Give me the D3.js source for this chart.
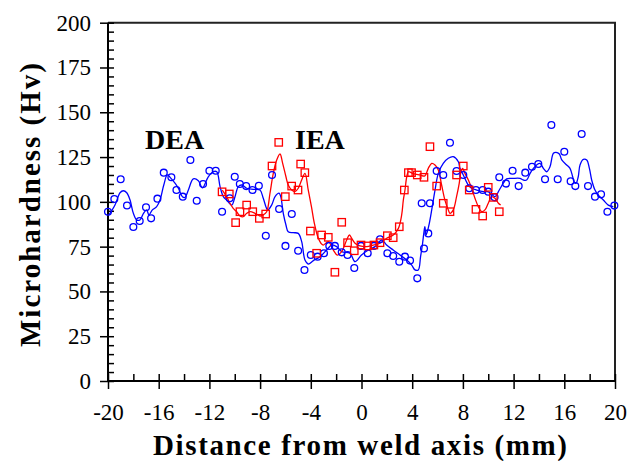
<!DOCTYPE html>
<html>
<head>
<meta charset="utf-8">
<script src="https://cdn.jsdelivr.net/npm/d3@7"></script>
<style>
  body { margin: 0; background: #fff; }
  svg { display: block; }
  svg text { font-family: 'Liberation Serif', 'Times New Roman', serif; }
</style>
</head>
<body>
<div id="chart"></div>
<script>
// DATA
// DEA measurements (circles)
let deaPoints = [[-20,94.5],[-19.5,101.6],[-19,112.6],[-18.5,98],[-18,86],[-17.5,89.3],[-17,97],[-16.6,90.8],[-16.1,101.8],[-15.6,116.3],[-15,113.7],[-14.6,106.6],[-14.1,102.9],[-13.5,123.4],[-13,100.6],[-12.5,110],[-12,117.4],[-11.5,117.4],[-11,94.5],[-10.4,102],[-10,114],[-9.6,110],[-9.1,108.8],[-8.6,106.6],[-8.1,109],[-7.55,81.1],[-7.06,115],[-6.5,96],[-6,75.4],[-5.5,93.2],[-5,72.7],[-4.5,62],[-4,70.3],[-3.46,69.4],[-2.96,71.3],[-2.54,75.4],[-2.1,75.4],[-1.56,71.8],[-1.1,70.3],[-0.57,63.1],[-0.04,75.4],[0.49,71.3],[0.98,75.4],[1.46,79.1],[2.04,71.3],[2.5,69.8],[2.98,66.6],[3.43,69.4],[3.83,67.2],[4.4,57.3],[4.75,99.2],[4.93,74],[5.27,82.4],[5.4,99.2],[5.93,117.2],[6.45,115],[6.98,133],[7.5,117.2],[8.03,115],[8.5,107.6],[9.03,106.6],[9.56,106.6],[10,105.7],[10.5,102.5],[10.87,113.7],[11.4,110.2],[11.92,117.4],[12.4,108.8],[12.92,116.3],[13.45,119.6],[13.95,121.1],[14.48,112.6],[14.98,142.9],[15.48,112.6],[16,128],[16.5,111.5],[16.87,108.8],[17.37,137.9],[17.87,108.8],[18.42,102.9],[18.9,104.2],[19.4,94.5],[19.95,97.9]]

// DEA smoothed profile (blue line)
let deaCurve = [[-19.92,92.7],[-19.45,98.2],[-19.05,105.1],[-18.79,106.2],[-18.52,105.1],[-18.26,101],[-18,93.6],[-17.74,89.9],[-17.48,89.9],[-17.2,93.6],[-16.95,95.5],[-16.77,92.7],[-16.5,95.5],[-16.16,97.3],[-15.9,101],[-15.6,109.4],[-15.32,115],[-15.03,113.1],[-14.7,110.3],[-14.45,107.6],[-14.13,102.9],[-13.92,102.5],[-13.66,106.6],[-13.27,112.8],[-12.87,111.8],[-12.55,107.8],[-12.09,114],[-11.7,116.8],[-11.42,116.8],[-11.16,108.5],[-10.9,102.9],[-10.64,101],[-10.24,98.2],[-9.98,102.9],[-9.72,108.5],[-9.45,109.4],[-9.06,107.6],[-8.54,107],[-8.01,106.6],[-7.75,102],[-7.4,95.5],[-7.09,98.2],[-6.82,102.9],[-6.5,104.8],[-6.37,102.9],[-6.17,93.6],[-5.96,87.1],[-5.78,83.3],[-5.38,82.8],[-4.99,82.4],[-4.72,77.8],[-4.46,67.5],[-4.2,65.3],[-3.8,67.2],[-3.27,69.4],[-2.75,73.1],[-2.36,75.9],[-1.96,75],[-1.57,72.2],[-0.91,71.3],[-0.51,66.6],[0,70.3],[0.54,73.1],[1.07,75],[1.6,78.7],[1.98,75.9],[2.5,73.1],[3.04,70.3],[3.57,67.5],[3.96,64.7],[4.22,62],[4.48,62],[4.66,69.4],[4.82,76.9],[4.93,83.3],[5,86.1],[5.09,81.5],[5.19,83.3],[5.35,88],[5.54,95.5],[5.8,106.6],[6.06,115.9],[6.45,121.5],[6.85,124.3],[7.24,125.2],[7.64,122.4],[7.77,118.7],[8.03,115],[8.43,109.4],[8.69,107.6],[9.09,106.6],[9.61,105.7],[9.93,105.7],[10.2,104.8],[10.53,102.9],[10.87,106.6],[11.19,110.4],[11.45,112.8],[11.98,113.1],[12.5,113.1],[12.77,112.2],[13.03,112.2],[13.3,115.9],[13.56,118.7],[13.82,120.6],[14.08,121.5],[14.35,118.7],[14.61,116.8],[14.87,119.6],[15.14,127.1],[15.35,127.6],[15.61,126.7],[15.8,123.4],[16.19,120.6],[16.45,118.7],[16.66,114],[16.77,111.2],[16.92,110.3],[17.1,114],[17.24,120.6],[17.5,123.7],[17.77,123.4],[17.98,118.7],[18.16,112.2],[18.42,106.6],[18.68,103.8],[19.08,101],[19.47,98.2],[19.87,97.3]]

// IEA measurements (squares)
let ieaPoints = [[-11,105.6],[-10.43,104.4],[-9.93,88.4],[-9.59,94.5],[-9.06,98.2],[-8.58,94.5],[-8.06,90.8],[-7.56,93.2],[-7.06,120],[-6.53,133.2],[-6.01,102.9],[-5.51,108.8],[-5.01,106.6],[-4.8,121.1],[-4.47,116.3],[-4.03,83.7],[-3.54,71.3],[-3.15,81.5],[-2.62,80.2],[-2.1,60.7],[-1.56,88.6],[-1.1,77.2],[-0.57,72.7],[-0.04,75.9],[0.49,75.4],[0.98,75.9],[1.46,77.2],[2.04,81.1],[2.5,80],[2.98,86.1],[3.38,106.6],[3.7,116.3],[3.95,116.3],[4.4,115],[4.93,113.7],[5.4,130.8],[5.93,108.8],[6.45,99.2],[6.98,94.5],[7.5,115],[8.03,120],[8.5,106.6],[9.03,95.8],[9.56,92.1],[10,108.1],[10.4,102.5],[10.87,94.5]]

// IEA smoothed profile (red line)
let ieaCurve = [[-10.98,106.6],[-10.64,102.9],[-10.38,99.2],[-10.12,96.4],[-9.85,94.5],[-9.59,92.1],[-9.33,91.7],[-9.06,93.6],[-8.8,94.5],[-8.4,93.6],[-8.01,92.1],[-7.75,92.7],[-7.48,94.5],[-7.22,104.8],[-6.96,115.9],[-6.69,123.4],[-6.43,126.7],[-6.22,121.5],[-5.96,114],[-5.78,109.4],[-5.51,106.6],[-5.25,105.7],[-4.99,107.6],[-4.72,112.2],[-4.46,115.9],[-4.2,106.5],[-3.95,97.3],[-3.72,88],[-3.45,80.5],[-3.2,76.9],[-3.01,75.9],[-2.62,77.8],[-2.22,73.1],[-1.91,70.3],[-1.57,72.2],[-1.17,78.7],[-0.96,81.5],[-0.78,79.7],[-0.51,76.9],[-0.12,75.4],[0.41,75],[0.93,75.9],[1.46,76.9],[1.98,79.7],[2.51,81.5],[2.91,85.2],[3.17,92.7],[3.3,101],[3.43,106.6],[3.57,114],[3.7,116.8],[4.09,115.7],[4.61,115],[5,114.5],[5.27,118.7],[5.54,121.5],[5.8,120.6],[6.06,117.8],[6.32,109.4],[6.58,101],[6.85,95.5],[6.98,93.6],[7.24,95.5],[7.5,102.9],[7.71,110.3],[7.82,115.9],[7.98,118.7],[8.16,115.9],[8.43,112.2],[8.69,107.6],[8.95,102],[9.22,97.3],[9.48,94.5],[9.74,95.5],[10,99.2],[10.27,102.9],[10.53,102],[10.8,99.2],[10.98,98.2]]

let xMajor = d3.range(-20, 21, 4)
let xMinor = d3.range(-20, 21, 2)
let yMajor = d3.range(0, 201, 25)
let yMinor = d3.range(0, 201, 5)

// CHART SETUP
let width = 629, height = 461
let margin = { top: 22.7, right: 14, bottom: 80, left: 108 }

let svg = d3.select('#chart')
  .append('svg')
  .attr('width', width)
  .attr('height', height)

let x = d3.scaleLinear().domain([-20, 20]).range([margin.left, width - margin.right])
let y = d3.scaleLinear().domain([0, 200]).range([height - margin.bottom, margin.top])

// frame (top and right)
svg.append('path')
  .attr('d', 'M' + x(-20) + ',' + y(200) + 'H' + x(20) + 'V' + y(0))
  .attr('fill', 'none')
  .attr('stroke', '#222')
  .attr('stroke-width', 2)

// AXES
function styleAxis(g) {
  g.select('.domain').remove()
  g.selectAll('line').attr('stroke', '#000').attr('stroke-width', 1.5)
  g.selectAll('text')
    .attr('fill', '#000')
    .style('font-family', "'Liberation Serif', 'Times New Roman', serif")
    .style('font-size', '23px')
}

// plain hyphen minus, as in the original
let fmt = d => String(d)

// inner ticks (major + minor)
svg.append('g')
  .attr('transform', 'translate(' + x(-20) + ',0)')
  .call(d3.axisRight(y).tickValues(yMinor).tickSize(6).tickFormat(''))
  .call(styleAxis)
svg.append('g')
  .attr('transform', 'translate(0,' + y(0) + ')')
  .call(d3.axisTop(x).tickValues(xMinor).tickSize(7).tickFormat(''))
  .call(styleAxis)

// outer major ticks with labels
svg.append('g')
  .attr('transform', 'translate(' + x(-20) + ',0)')
  .call(d3.axisLeft(y).tickValues(yMajor).tickSize(8).tickPadding(9).tickFormat(fmt))
  .call(styleAxis)

svg.append('g')
  .attr('transform', 'translate(0,' + y(0) + ')')
  .call(d3.axisBottom(x).tickValues(xMajor).tickSize(8).tickPadding(15).tickFormat(fmt))
  .call(styleAxis)

// axis lines
svg.append('path')
  .attr('d', 'M' + x(-20) + ',' + y(200) + 'V' + y(0) + 'H' + x(20))
  .attr('fill', 'none')
  .attr('stroke', '#000')
  .attr('stroke-width', 2)

// axis titles
svg.append('text')
  .attr('x', 360)
  .attr('y', 455)
  .attr('text-anchor', 'middle')
  .attr('textLength', 414)
  .attr('lengthAdjust', 'spacing')
  .style('font-size', '29px')
  .style('font-weight', 700)
  .text('Distance from weld axis (mm)')

svg.append('text')
  .attr('transform', 'translate(40,205) rotate(-90)')
  .attr('text-anchor', 'middle')
  .attr('textLength', 284)
  .attr('lengthAdjust', 'spacing')
  .style('font-size', '29px')
  .style('font-weight', 700)
  .text('Microhardness (Hv)')

// LINES
let line = d3.line()
  .x(d => x(d[0]))
  .y(d => y(d[1]))
  .curve(d3.curveCatmullRom.alpha(0.5))

svg.append('path')
  .datum(deaCurve)
  .attr('d', line)
  .attr('fill', 'none')
  .attr('stroke', '#0000ff')
  .attr('stroke-width', 1.3)

svg.append('path')
  .datum(ieaCurve)
  .attr('d', line)
  .attr('fill', 'none')
  .attr('stroke', '#ff0000')
  .attr('stroke-width', 1.3)

// MARKERS
svg.selectAll('.dea')
  .data(deaPoints)
  .enter().append('circle')
    .attr('class', 'dea')
    .attr('cx', d => x(d[0]))
    .attr('cy', d => y(d[1]))
    .attr('r', 3.4)
    .attr('fill', 'none')
    .attr('stroke', '#0000ff')
    .attr('stroke-width', 1.3)

let s = 7.4
svg.selectAll('.iea')
  .data(ieaPoints)
  .enter().append('rect')
    .attr('class', 'iea')
    .attr('x', d => x(d[0]) - s / 2)
    .attr('y', d => y(d[1]) - s / 2)
    .attr('width', s)
    .attr('height', s)
    .attr('fill', 'none')
    .attr('stroke', '#ff0000')
    .attr('stroke-width', 1.3)

// LABELS
svg.append('text')
  .attr('x', 145)
  .attr('y', 149)
  .style('font-size', '28px')
  .style('font-weight', 700)
  .text('DEA')

svg.append('text')
  .attr('x', 295)
  .attr('y', 149)
  .style('font-size', '28px')
  .style('font-weight', 700)
  .text('IEA')
</script>
</body>
</html>
